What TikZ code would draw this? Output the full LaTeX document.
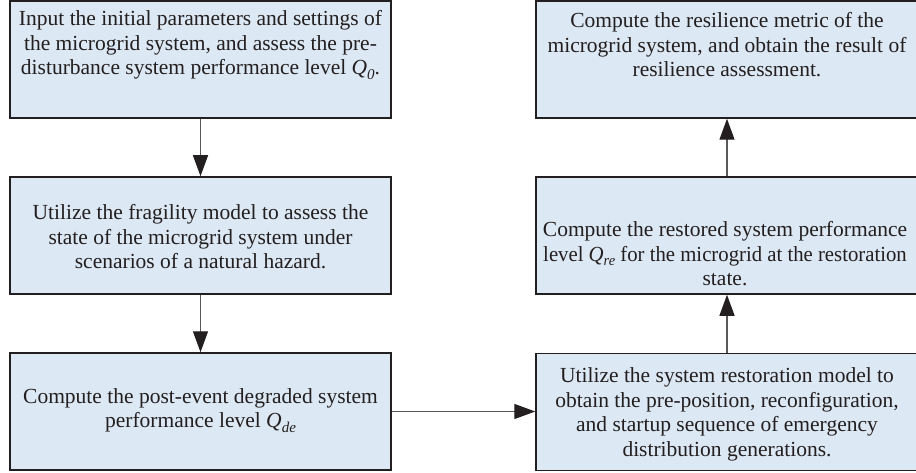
\documentclass[tikz,border=0pt]{standalone}
\usepackage{fontspec}
\setmainfont{Liberation Serif}
\usetikzlibrary{arrows.meta,calc}
\definecolor{boxfill}{RGB}{220,232,243}
\definecolor{boxline}{RGB}{35,31,32}
\definecolor{linkline}{RGB}{88,89,91}
\newcommand{\Qsub}[1]{\textit{Q}\raisebox{-0.45ex}{\fontsize{15}{15}\selectfont\itshape #1}}
\tikzset{
  box/.style={draw=boxline, fill=boxfill, line width=1.5pt, minimum width=381pt, minimum height=117pt, inner sep=0pt},
  txt/.style={align=center, inner sep=0pt, text=boxline, font=\fontsize{21.5}{24.5}\selectfont},
  link/.style={draw=linkline, line width=1.3pt, -{Triangle[length=21pt,width=15pt,color=boxline]}}
}
\begin{document}
\begin{tikzpicture}[x=1pt,y=-1pt]
\useasboundingbox (0,0) rectangle (916,473);
% left column
\node[box] (L1) at (200.5,59.5) {};
\node[box] (L2) at (200.5,235.5) {};
\node[box] (L3) at (200.5,411.5) {};
% right column
\node[box, minimum width=382pt] (R1) at (727,59.5) {};
\node[box, minimum width=382pt] (R2) at (727,235.5) {};
\node[box, minimum width=382pt] (R3) at (727,412) {};
% texts
\node[txt] (tL1) at (200.5,45) {Input the initial parameters and settings of\\the microgrid system, and assess the pre-\\disturbance system performance level \Qsub{0}.};
\node[txt] (tL2) at (200.5,237) {Utilize the fragility model to assess the\\state of the microgrid system under\\scenarios of a natural hazard.};
\node[txt] (tL3) at (200.5,410.5) {Compute the post-event degraded system\\performance level \Qsub{de}};
\node[txt] (tR1) at (727,45) {Compute the resilience metric of the\\microgrid system, and obtain the result of\\resilience assessment.};
\node[txt] (tR2) at (725,254) {Compute the restored system performance\\\scalebox{0.965}[1]{level \Qsub{re} for the microgrid at the restoration}\\state.};
\node[txt] (tR3) at (727,414.5) {Utilize the system restoration model to\\obtain the pre-position, reconfiguration,\\and startup sequence of emergency\\distribution generations.};
% connectors
\draw[link] (L1.south) -- (L2.north);
\draw[link] (L2.south) -- (L3.north);
\draw[link] (L3.east) -- (L3.east -| R3.west);
\draw[link] (R3.north) -- (R2.south);
\draw[link] (R2.north) -- (R1.south);
\end{tikzpicture}
\end{document}
